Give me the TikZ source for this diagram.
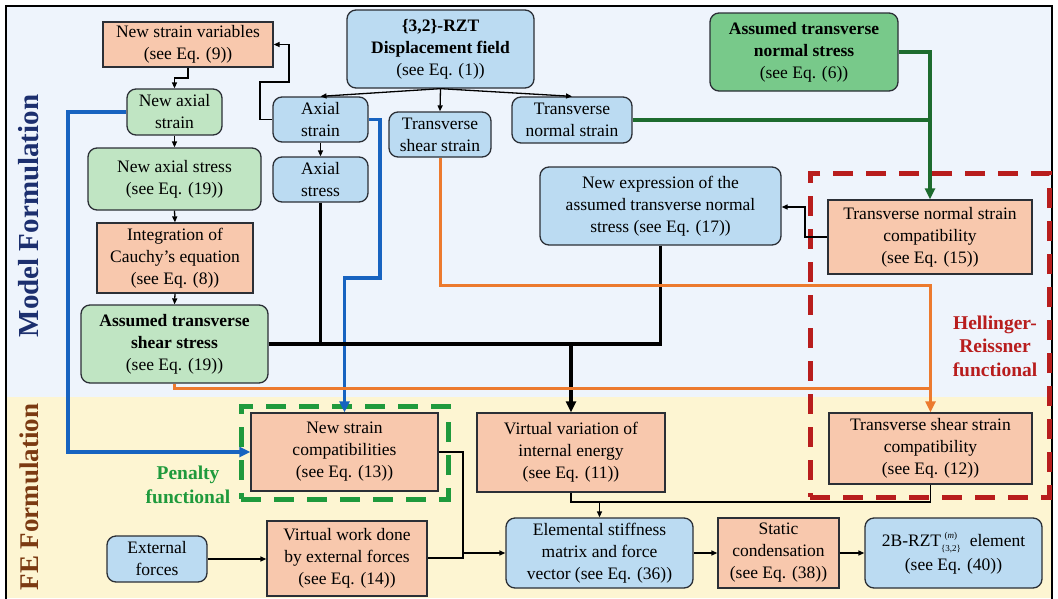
\documentclass[tikz,border=0pt]{standalone}
\usepackage{fontspec}
\setmainfont{Liberation Serif}
\usetikzlibrary{arrows.meta}
\definecolor{bordc}{HTML}{2B2F36}
\definecolor{orangef}{HTML}{F8C8AD}
\definecolor{greenf}{HTML}{C0E5C3}
\definecolor{dgreenf}{HTML}{78C98A}
\definecolor{bluef}{HTML}{BBDBF2}
\definecolor{bgtop}{HTML}{EEF4FC}
\definecolor{bgbot}{HTML}{FDF5D2}
\definecolor{bluel}{HTML}{1763C0}
\definecolor{orangel}{HTML}{EC7A2E}
\definecolor{greenl}{HTML}{1D6B2E}
\definecolor{redd}{HTML}{B81D1D}
\definecolor{greend}{HTML}{1F9A3C}
\definecolor{modelc}{HTML}{1C2F6E}
\definecolor{fec}{HTML}{7B3A12}
\newcommand\fsz{\fontsize{17.5}{22}\selectfont}
\newcommand\smallidx{\fontsize{9}{9}\selectfont}
\tikzset{
  base/.style={draw=bordc, line width=1.3pt, align=center, inner sep=0pt, font=\fsz},
  obox/.style={base, fill=orangef},
  gbox/.style={base, fill=greenf, rounded corners=9pt},
  dgbox/.style={base, fill=dgreenf, rounded corners=9pt},
  bbox/.style={base, fill=bluef, rounded corners=9pt},
  tarrow/.style={draw=black, line width=1.3pt, -{Triangle[length=6pt,width=5pt]}},
  tline/.style={draw=black, line width=1.3pt},
  kline/.style={draw=black, line width=3.4pt},
  karrow/.style={kline, -{Triangle[length=11pt,width=10pt]}},
  bline/.style={draw=bluel, line width=3.6pt},
  barrow/.style={bline, -{Triangle[length=11pt,width=10pt]}},
  oline/.style={draw=orangel, line width=3pt},
  oarrow/.style={oline, -{Triangle[length=11pt,width=10pt]}},
  gline/.style={draw=greenl, line width=3.4pt},
  garrow/.style={gline, -{Triangle[length=11pt,width=10pt]}},
  reddash/.style={draw=redd, line width=5pt, dash pattern=on 20pt off 13pt, inner sep=0pt},
  grndash/.style={draw=greend, line width=5pt, dash pattern=on 20pt off 13pt, inner sep=0pt},
  sidelab/.style={rotate=90, font=\bfseries\fontsize{29}{30}\selectfont},
  felab/.style={rotate=90, font=\bfseries\fontsize{27}{28}\selectfont},
  funclab/.style={align=center, font=\bfseries\fontsize{19.5}{23.5}\selectfont}
}
\begin{document}
\begin{tikzpicture}[x=1pt,y=-1pt]
\useasboundingbox (0,0) rectangle (1058,598);
\fill[white] (0,0) rectangle (1058,598);
\fill[bgtop] (6,6) rectangle (1052,397);
\fill[bgbot] (6,397) rectangle (1052,598);
\draw[line width=1.6pt] (6,600) -- (6,6) -- (1052,6) -- (1052,600);

\node[sidelab, text=modelc] (lmodel) at (29,216) {Model Formulation};
\node[felab, text=fec] (lfe) at (29,497) {FE Formulation};

% dashed frames
\node[reddash, minimum width=239pt, minimum height=324pt] (hrbox) at (929.5,335) {};
\node[grndash, minimum width=207pt, minimum height=93pt] (pnbox) at (344.5,452.5) {};
\node[funclab, text=redd] (hrlab) at (995,346) {Hellinger-\\Reissner\\functional};
\node[funclab, text=greend] (pnlab) at (188,485) {Penalty\\functional};

% nodes
\node[obox, minimum width=170pt, minimum height=45pt] (ns) at (188,44.5) {New strain variables\\(see Eq. (9))};
\node[gbox, minimum width=95pt, minimum height=46pt] (nas) at (174.5,112) {New axial\\strain};
\node[gbox, minimum width=173pt, minimum height=62pt] (nast) at (174.5,179) {New axial stress\\(see Eq. (19))};
\node[obox, minimum width=156pt, minimum height=70pt] (int) at (175,258) {Integration of\\Cauchy’s equation\\(see Eq. (8))};
\node[gbox, minimum width=187pt, minimum height=78pt] (ass) at (174.5,344) {\textbf{Assumed transverse}\\\textbf{shear stress}\\(see Eq. (19))};
\node[bbox, minimum width=187pt, minimum height=78pt] (disp) at (440.5,49) {\textbf{\{3,2\}-RZT}\\\textbf{Displacement field}\\(see Eq. (1))};
\node[bbox, minimum width=95pt, minimum height=45pt] (axs) at (320.5,119.5) {Axial\\strain};
\node[bbox, minimum width=95pt, minimum height=45pt] (axst) at (320.5,179.5) {Axial\\stress};
\node[bbox, minimum width=102pt, minimum height=45pt] (tss) at (440,134.5) {Transverse\\shear strain};
\node[bbox, minimum width=120pt, minimum height=46pt] (tns) at (572,120) {Transverse\\normal strain};
\node[dgbox, minimum width=188pt, minimum height=78pt] (atns) at (804,52) {\textbf{Assumed transverse}\\\textbf{normal stress}\\(see Eq. (6))};
\node[bbox, minimum width=241pt, minimum height=78pt] (nexp) at (660.5,206) {New expression of the\\assumed transverse normal\\stress (see Eq. (17))};
\node[obox, minimum width=204pt, minimum height=74pt] (tnsc) at (930,237) {Transverse normal strain\\compatibility\\(see Eq. (15))};
\node[obox, minimum width=187pt, minimum height=78pt] (nsc) at (344.5,452) {New strain\\compatibilities\\(see Eq. (13))};
\node[obox, minimum width=188pt, minimum height=79pt] (vv) at (571,452.5) {Virtual variation of\\internal energy\\(see Eq. (11))};
\node[obox, minimum width=203pt, minimum height=71pt] (tssc) at (930.5,448.5) {Transverse shear strain\\compatibility\\(see Eq. (12))};
\node[bbox, minimum width=100pt, minimum height=46pt] (ext) at (157,559) {External\\forces};
\node[obox, minimum width=160pt, minimum height=75pt] (vw) at (347,558.5) {Virtual work done\\by external forces\\(see Eq. (14))};
\node[bbox, minimum width=187pt, minimum height=70pt] (ele) at (599.5,553) {Elemental stiffness\\matrix and force\\vector (see Eq. (36))};
\node[obox, minimum width=121pt, minimum height=70pt] (sc) at (778.5,553) {Static\\condensation\\(see Eq. (38))};
\node[bbox, minimum width=177pt, minimum height=70pt] (rzt) at (953.5,553) {2B-RZT\makebox[0pt][l]{\hspace{3.5pt}\raisebox{7.5pt}{\smallidx(\textit{m})}}\raisebox{-5pt}{\smallidx\{3,2\}}\ \ element\\[2pt](see Eq. (40))};

% thin connectors
\draw[tarrow] (disp.south) -- (axs.north);
\draw[tarrow] (disp.south) -- (tss.north);
\draw[tarrow] (disp.south) -- (tns.north);
\draw[tarrow] (axs.west) -- (260,119.5) -- (260,82) -- (289,82) -- (289,44.5) -- (ns.east);
\draw[tarrow] (ns.south) -- (188,78) -- (174.5,78) -- (nas.north);
\draw[tarrow] (nas.south) -- (nast.north);
\draw[tarrow] (nast.south) -- (int.north);
\draw[tarrow] (int.south) -- (ass.north);
\draw[tarrow] (axs.south) -- (axst.north);
\draw[tarrow] (tnsc.west) -- (805,237) -- (805,207) -- (nexp.east |- 0,207);
\draw[tarrow] (vv.south) -- (571,502) -- (599.5,502) -- (ele.north);
\draw[tline] (tssc.south) -- (930.5,502) -- (599.5,502);
\draw[tline] (nsc.east |- 0,452) -- (463,452) -- (463,558) -- (vw.east |- 0,558);
\draw[tarrow] (463,553) -- (ele.west);
\draw[tarrow] (ext.east) -- (vw.west |- ext.east);
\draw[tarrow] (ele.east) -- (sc.west);
\draw[tarrow] (sc.east) -- (rzt.west);

% blue connectors
\draw[barrow] (nas.west) -- (68,112) -- (68,452) -- (nsc.west);
\draw[barrow] (axs.east) -- (380,119.5) -- (380,278) -- (344.5,278) -- (nsc.north);

% black thick connectors
\draw[kline] (axst.south) -- (320.5,344);
\draw[karrow] (ass.east) -- (571,344) -- (vv.north);
\draw[kline] (nexp.south) -- (660.5,344) -- (571,344);

% orange connectors
\draw[oarrow] (tss.south) -- (440,285) -- (930.5,285) -- (tssc.north);
\draw[oline] (ass.south) -- (174.5,388) -- (930.5,388);

% green connectors
\draw[garrow] (atns.east) -- (930,52) -- (tnsc.north);
\draw[gline] (tns.east) -- (930,120);
\end{tikzpicture}
\end{document}
